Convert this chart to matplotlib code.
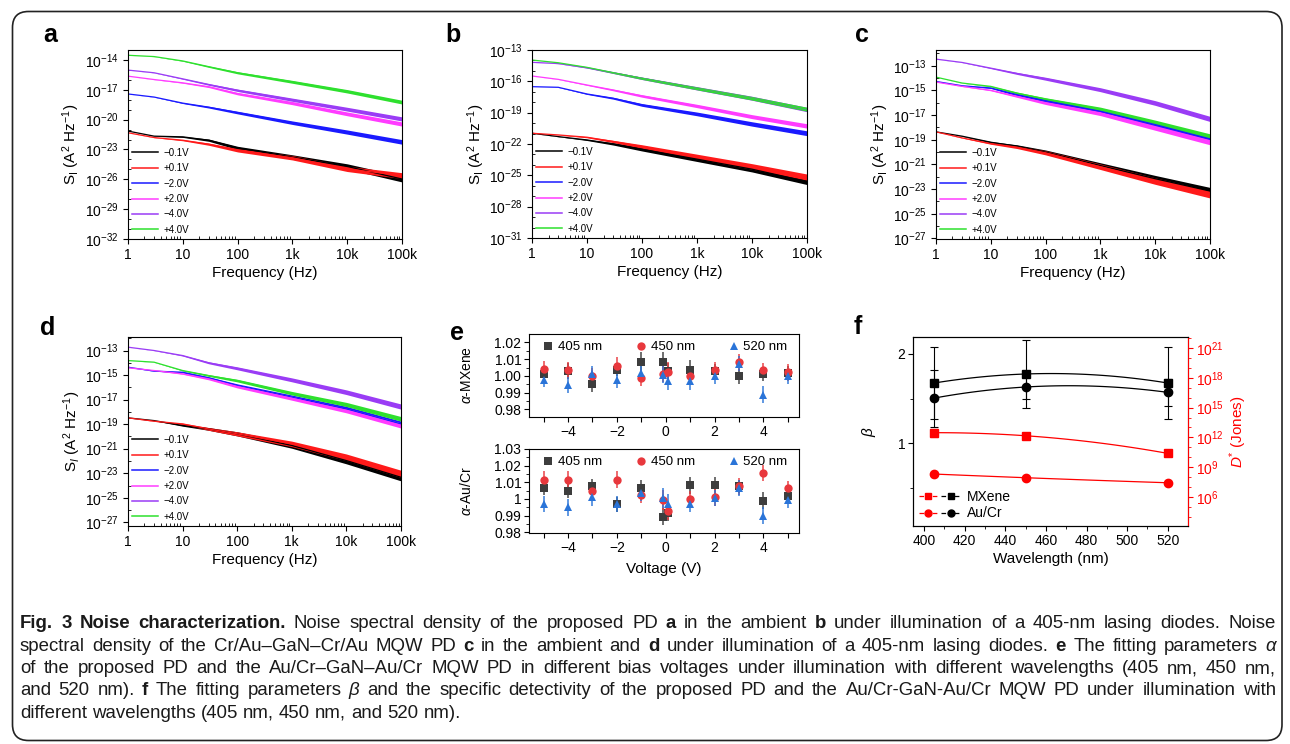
import matplotlib
matplotlib.use("Agg")
import matplotlib.pyplot as plt
import numpy as np
from matplotlib.lines import Line2D
from matplotlib.legend_handler import HandlerTuple
from matplotlib.patches import FancyBboxPatch
from matplotlib.ticker import FixedLocator, NullFormatter, LogFormatterSciNotation, LogLocator

plt.rcParams['font.family'] = ['Liberation Sans', 'DejaVu Sans']
plt.rcParams['mathtext.fontset'] = 'custom'
plt.rcParams['mathtext.rm'] = 'Liberation Sans'
plt.rcParams['mathtext.it'] = 'Liberation Sans:italic'
plt.rcParams['mathtext.bf'] = 'Liberation Sans:bold'
plt.rcParams['axes.linewidth'] = 0.8

# ---------------- data: noise spectra (log10 of S_I, A^2/Hz) ----------------
freq = [1, 3, 10, 30, 100, 1e3, 1e4, 1e5]
band = [0.0, 0.01, 0.04, 0.08, 0.12, 0.16, 0.19, 0.21]   # half width of noisy trace (decades)
voltages = ["\u22120.1V", "+0.1V", "\u22122.0V", "+2.0V", "\u22124.0V", "+4.0V"]
volt_colors = ['black', '#ff1a1a', '#1a1aff', '#ff3cff', '#9a3cf5', '#2ee02e']
band_scale = [1.4, 1.4, 1.1, 1.0, 1.0, 0.9]

a_m01 = [-21.15, -21.66, -21.73, -22.07, -22.85, -23.76, -24.71, -25.97]
a_p01 = [-21.32, -21.80, -22.07, -22.47, -23.08, -23.83, -24.95, -25.63]
a_m20 = [-17.42, -17.73, -18.34, -18.75, -19.29, -20.31, -21.25, -22.24]
a_p20 = [-15.63, -15.97, -16.30, -16.70, -17.39, -18.34, -19.42, -20.44]
a_m40 = [-15.02, -15.29, -15.90, -16.47, -17.05, -18.00, -18.95, -19.93]
a_p40 = [-13.53, -13.66, -14.10, -14.68, -15.29, -16.20, -17.15, -18.24]

b_m01 = [-20.97, -21.29, -21.61, -21.99, -22.50, -23.45, -24.41, -25.59]
b_p01 = [-20.97, -21.13, -21.35, -21.76, -22.24, -23.20, -24.15, -25.17]
b_m20 = [-16.51, -16.57, -17.21, -17.62, -18.26, -19.12, -20.08, -20.97]
b_p20 = [-15.49, -15.81, -16.35, -16.83, -17.40, -18.36, -19.38, -20.27]
b_m40 = [-14.18, -14.30, -14.70, -15.17, -15.71, -16.67, -17.62, -18.70]
b_p40 = [-13.96, -14.22, -14.66, -15.17, -15.71, -16.67, -17.62, -18.67]

c_m01 = [-18.36, -18.71, -19.20, -19.52, -20.00, -21.09, -22.16, -23.16]
c_p01 = [-18.36, -18.85, -19.31, -19.60, -20.06, -21.19, -22.35, -23.43]
c_m20 = [-14.27, -14.62, -14.80, -15.35, -15.83, -16.69, -17.77, -18.93]
c_p20 = [-14.32, -14.67, -14.99, -15.48, -16.02, -16.88, -18.04, -19.20]
c_m40 = [-12.46, -12.73, -13.19, -13.62, -14.05, -14.94, -16.02, -17.31]
c_p40 = [-13.92, -14.40, -14.67, -15.21, -15.70, -16.50, -17.58, -18.71]

d_m01 = [-18.49, -18.71, -19.11, -19.39, -19.79, -20.74, -21.97, -23.33]
d_p01 = [-18.49, -18.76, -18.98, -19.39, -19.79, -20.61, -21.70, -23.05]
d_m20 = [-14.36, -14.68, -14.77, -15.23, -15.85, -16.80, -17.76, -18.98]
d_p20 = [-14.41, -14.63, -14.90, -15.31, -15.93, -16.89, -17.89, -19.11]
d_m40 = [-12.73, -13.00, -13.41, -14.00, -14.45, -15.39, -16.40, -17.57]
d_p40 = [-13.82, -13.95, -14.63, -15.04, -15.45, -16.48, -17.40, -18.57]

freq_ticks = [1, 10, 100, 1e3, 1e4, 1e5]
freq_labels = ["1", "10", "100", "1k", "10k", "100k"]

# ---------------- data: alpha fitting parameters ----------------
volt_e = [-5, -4, -3, -2, -1, -0.1, 0.1, 1, 2, 3, 4, 5]
wl_labels = ["405 nm", "450 nm", "520 nm"]
mx_405 = [1.0012, 1.0030, 0.9949, 1.0038, 1.0082, 1.0082, 1.0030, 1.0038, 1.0032, 0.9998, 1.0012, 1.0018]
mx_450 = [1.0042, 1.0034, 0.9998, 1.0062, 0.9988, 1.0012, 1.0025, 1.0002, 1.0034, 1.0082, 1.0034, 1.0022]
mx_520 = [0.9978, 0.9948, 1.0012, 0.9974, 1.0018, 1.0008, 0.9972, 0.9968, 0.9998, 1.0072, 0.9889, 0.9998]
mx_405_err = [0.004, 0.005, 0.0045, 0.004, 0.006, 0.006, 0.005, 0.0055, 0.004, 0.0045, 0.004, 0.004]
mx_450_err = [0.0045, 0.005, 0.005, 0.005, 0.005, 0.005, 0.006, 0.005, 0.005, 0.005, 0.0045, 0.005]
mx_520_err = [0.0047, 0.0048, 0.005, 0.0047, 0.005, 0.005, 0.0055, 0.005, 0.0045, 0.0045, 0.005, 0.0045]

au_405 = [1.0065, 1.0049, 1.0075, 0.9969, 1.0065, 0.9894, 0.9915, 1.0081, 1.0081, 1.0075, 0.9989, 1.0015]
au_450 = [1.0115, 1.0115, 1.0045, 1.0115, 1.0025, 0.9995, 0.9925, 1.0000, 1.0009, 1.0075, 1.0155, 1.0065]
au_520 = [0.9969, 0.9949, 1.0009, 0.9969, 1.0035, 1.0005, 0.9969, 0.9969, 1.0005, 1.0065, 0.9900, 0.9995]
au_405_err = [0.004, 0.0045, 0.0045, 0.0045, 0.005, 0.005, 0.005, 0.005, 0.005, 0.004, 0.005, 0.004]
au_450_err = [0.005, 0.005, 0.005, 0.005, 0.005, 0.006, 0.005, 0.005, 0.005, 0.005, 0.005, 0.004]
au_520_err = [0.005, 0.005, 0.005, 0.005, 0.005, 0.006, 0.006, 0.005, 0.005, 0.005, 0.005, 0.005]

# ---------------- data: beta and detectivity ----------------
wl = [405, 450, 520]
beta_mx = [1.674, 1.775, 1.674]
beta_mx_err = [0.40, 0.38, 0.40]
beta_au = [1.505, 1.629, 1.569]
beta_au_err = [0.32, 0.14, 0.15]
logD_mx = [12.47, 12.16, 10.38]
logD_mx_err = [0.42, 0.15, 0.15]
logD_au = [8.29, 7.92, 7.41]
logD_au_err = [0.12, 0.12, 0.12]

# ---------------- caption ----------------
caption_lines = [
    [("Fig. 3 Noise characterization.", "b"), ("Noise spectral density of the proposed PD", "n"),
     ("a", "b"), ("in the ambient", "n"), ("b", "b"),
     ("under illumination of a 405-nm lasing diodes. Noise", "n")],
    [("spectral density of the Cr/Au\u2013GaN\u2013Cr/Au MQW PD", "n"), ("c", "b"),
     ("in the ambient and", "n"), ("d", "b"), ("under illumination of a 405-nm lasing diodes.", "n"),
     ("e", "b"), ("The fitting parameters", "n"), ("\u03b1", "i")],
    [("of the proposed PD and the Au/Cr\u2013GaN\u2013Au/Cr MQW PD in different bias voltages under "
      "illumination with different wavelengths (405 nm, 450 nm,", "n")],
    [("and 520 nm).", "n"), ("f", "b"), ("The fitting parameters", "n"), ("\u03b2", "i"),
     ("and the specific detectivity of the proposed PD and the Au/Cr-GaN-Au/Cr MQW PD under illumination with", "n")],
    [("different wavelengths (405 nm, 450 nm, and 520 nm).", "n")],
]
caption_justify = [True, True, True, True, False]

W, H = 1290, 744
fig = plt.figure(figsize=(W / 100, H / 100), dpi=100)


def rect(x0, y0, x1, y1):
    return [x0 / W, 1 - y1 / H, (x1 - x0) / W, (y1 - y0) / H]


def noise_panel(box, curves, ylo, yhi, major_exps, ylabel):
    ax = fig.add_axes(rect(*box))
    lines = []
    for logs, lab, col, sc in zip(curves, voltages, volt_colors, band_scale):
        s = 10.0 ** np.array(logs)
        hw = 10.0 ** (np.array(band) * sc)
        ax.fill_between(freq, s / hw, s * hw, color=col, lw=0)
        ln, = ax.plot(freq, s, color=col, lw=0.9, label=lab)
        lines.append(ln)
    ax.set_xscale('log')
    ax.set_yscale('log')
    ax.set_xlim(1, 1e5)
    ax.set_ylim(10.0 ** ylo, 10.0 ** yhi)
    ax.set_xticks(freq_ticks, freq_labels)
    ax.xaxis.set_minor_locator(LogLocator(base=10, subs=np.arange(2, 10)))
    ax.xaxis.set_minor_formatter(NullFormatter())
    ax.set_yticks([10.0 ** e for e in major_exps])
    ax.yaxis.set_major_formatter(LogFormatterSciNotation())
    ax.yaxis.set_minor_locator(FixedLocator([10.0 ** e for e in range(int(np.floor(ylo)), int(np.ceil(yhi)) + 1)]))
    ax.yaxis.set_minor_formatter(NullFormatter())
    ax.tick_params(which='major', direction='out', length=3.5, width=0.8, labelsize=10, pad=3)
    ax.tick_params(which='minor', direction='in', length=2.5, width=0.6)
    ax.set_xlabel("Frequency (Hz)", fontsize=11, labelpad=3)
    ax.set_ylabel(ylabel, fontsize=11, labelpad=2)
    leg = ax.legend(handles=lines, loc='lower left', frameon=False, fontsize=7, handlelength=2.6,
                    handletextpad=0.65, labelspacing=0.55, borderaxespad=0.25, borderpad=0.2)
    for h in leg.legend_handles:
        h.set_linewidth(1.1)
    return ax


ylab = r"$\mathregular{S_I\ (A^2\ Hz^{-1})}$"
ylab_d = r"$\mathregular{S}_{I}\mathregular{\ (A^2\ Hz^{-1})}$"
noise_panel((128, 50, 402, 239), [a_m01, a_p01, a_m20, a_p20, a_m40, a_p40], -32, -13,
            range(-32, -13, 3), ylab)
noise_panel((532, 50, 807, 238), [b_m01, b_p01, b_m20, b_p20, b_m40, b_p40], -31, -13,
            range(-31, -12, 3), ylab)
noise_panel((936, 50, 1210, 239), [c_m01, c_p01, c_m20, c_p20, c_m40, c_p40], -27.05, -11.72,
            range(-27, -12, 2), ylab)
noise_panel((128, 337, 401, 526), [d_m01, d_p01, d_m20, d_p20, d_m40, d_p40], -27.3, -11.9,
            range(-27, -12, 2), ylab_d)

# ---------------- panel e ----------------
e_colors = ['#3d3d3d', '#e8383d', '#2a74d8']
e_markers = ['s', 'o', '^']


def alpha_panel(box, series, errs, ylim, yticks, ylabels, ylabel):
    ax = fig.add_axes(rect(*box))
    for vals, er, col, mk in zip(series, errs, e_colors, e_markers):
        ecol = matplotlib.colors.to_rgba(col, 0.8)
        ax.errorbar(volt_e, vals, yerr=er, fmt=mk, color=col, ecolor=ecol, ms=6,
                    capsize=3.5, elinewidth=1.3, capthick=1.3, mew=0)
    hs = [Line2D([], [], marker=mk, ls='', color=col, ms=6, mew=0) for col, mk in zip(e_colors, e_markers)]
    ax.legend(hs, wl_labels, loc='upper center', ncol=3, frameon=False, fontsize=9.5,
              handletextpad=0.1, columnspacing=2.4, borderaxespad=0.15, handlelength=1.2)
    ax.set_xlim(-5.6, 5.46)
    ax.set_ylim(*ylim)
    ax.set_xticks([-4, -2, 0, 2, 4])
    ax.set_xticks(range(-5, 6), minor=True)
    ax.set_yticks(yticks, ylabels)
    ax.set_yticks(np.arange(yticks[0] + 0.005, yticks[-1] + 0.004, 0.01), minor=True)
    ax.tick_params(which='major', direction='out', length=3.5, width=0.8, labelsize=10, pad=2)
    ax.tick_params(which='minor', axis='x', direction='out', length=3.5, width=0.8)
    ax.tick_params(which='minor', axis='y', direction='out', length=2, width=0.6)
    ax.set_ylabel(ylabel, fontsize=10)
    ax.yaxis.set_label_coords(-0.205, 0.5)
    return ax


alpha_panel((529, 334, 799, 417), [mx_405, mx_450, mx_520], [mx_405_err, mx_450_err, mx_520_err],
            (0.9755, 1.025), [0.98, 0.99, 1.00, 1.01, 1.02], ["0.98", "0.99", "1.00", "1.01", "1.02"],
            r"$\alpha$-MXene")
ax_e2 = alpha_panel((529, 449, 799, 533), [au_405, au_450, au_520], [au_405_err, au_450_err, au_520_err],
                    (0.9795, 1.03), [0.98, 0.99, 1.00, 1.01, 1.02, 1.03],
                    ["0.98", "0.99", "1", "1.01", "1.02", "1.03"], r"$\alpha$-Au/Cr")
ax_e2.set_xlabel("Voltage (V)", fontsize=11, labelpad=5)

# ---------------- panel f ----------------
ax_f = fig.add_axes(rect(913, 337, 1188, 526))
ax_d = ax_f.twinx()
xs = np.linspace(wl[0], wl[-1], 120)
ax_f.plot(xs, np.polyval(np.polyfit(wl, beta_mx, 2), xs), color='black', lw=0.9)
ax_f.plot(xs, np.polyval(np.polyfit(wl, beta_au, 2), xs), color='black', lw=0.9)
ax_f.errorbar(wl, beta_mx, yerr=beta_mx_err, fmt='s', color='black', ms=6, capsize=3,
              elinewidth=0.8, capthick=0.8)
ax_f.errorbar(wl, beta_au, yerr=beta_au_err, fmt='o', color='black', ms=6, capsize=3,
              elinewidth=0.8, capthick=0.8)
ax_f.set_xlim(394.5, 530)
ax_f.set_ylim(0.07, 2.19)
ax_f.set_xticks(range(400, 521, 20))
ax_f.set_xticks(range(410, 530, 10), minor=True)
ax_f.set_yticks([1, 2])
ax_f.set_yticks([0.5, 1.5], minor=True)
ax_f.tick_params(which='major', direction='out', length=3.5, width=0.8, labelsize=10, pad=2)
ax_f.tick_params(which='minor', direction='out', length=2.5, width=0.6)
ax_f.set_xlabel("Wavelength (nm)", fontsize=11, labelpad=3)
ax_f.set_ylabel(r"$\beta$", fontsize=11, labelpad=14)

for logs, lerr, mk in [(logD_mx, logD_mx_err, 's'), (logD_au, logD_au_err, 'o')]:
    logs = np.array(logs)
    lerr = np.array(lerr)
    ax_d.plot(xs, 10.0 ** np.polyval(np.polyfit(wl, logs, 2), xs), color='red', lw=0.9)
    yv = 10.0 ** logs
    ax_d.errorbar(wl, yv, yerr=[yv - 10.0 ** (logs - lerr), 10.0 ** (logs + lerr) - yv], fmt=mk,
                  color='red', ms=6, capsize=3, elinewidth=0.8, capthick=0.8)
ax_d.set_yscale('log')
ax_d.set_ylim(10.0 ** 3.04, 10.0 ** 22.14)
ax_d.set_yticks([10.0 ** e for e in range(6, 22, 3)])
ax_d.yaxis.set_major_formatter(LogFormatterSciNotation())
ax_d.yaxis.set_minor_locator(FixedLocator([10.0 ** e for e in range(3, 23)]))
ax_d.yaxis.set_minor_formatter(NullFormatter())
ax_d.tick_params(which='major', direction='out', length=3.5, width=0.8, labelsize=10, pad=2,
                 colors='red')
ax_d.tick_params(which='minor', direction='out', length=2.5, width=0.6, colors='red')
ax_d.spines['right'].set_color('red')
ax_d.set_ylabel(r"$D^{*}$ (Jones)", fontsize=11, color='red', labelpad=3)

h_mx = (Line2D([], [], color='red', ls='--', marker='s', ms=5, lw=0.9),
        Line2D([], [], color='black', ls='--', marker='s', ms=5, lw=0.9))
h_au = (Line2D([], [], color='red', ls='--', marker='o', ms=5, lw=0.9),
        Line2D([], [], color='black', ls='--', marker='o', ms=5, lw=0.9))
ax_d.legend([h_mx, h_au], ["MXene", "Au/Cr"], handler_map={tuple: HandlerTuple(ndivide=None, pad=0.3)},
            loc='lower left', frameon=False, fontsize=10, handlelength=3.0, handletextpad=0.5,
            labelspacing=0.2, borderaxespad=0.2, borderpad=0.2)

# ---------------- panel letters ----------------
for letter, (px, py) in zip("abcdef", [(50, 35), (453, 35), (862, 35), (48, 328), (457, 333), (858, 327)]):
    fig.text(px / W, 1 - py / H, letter, fontsize=18, fontweight='bold', ha='center', va='center')

# ---------------- frame ----------------
frame = FancyBboxPatch((0.125, 0.035), 12.695, 7.29, boxstyle="round,pad=0,rounding_size=0.16",
                       transform=fig.dpi_scale_trans, fill=False, ec='#222222', lw=1.2)
fig.add_artist(frame)

# ---------------- caption (justified word by word) ----------------
cap_left, cap_right = 20, 1276
cap_base = [628, 651, 673, 695, 718]
fig.canvas.draw()
renderer = fig.canvas.get_renderer()


def make_words(size):
    rows = []
    for segs in caption_lines:
        row = []
        for seg, st in segs:
            for wtxt in seg.split(' '):
                t = fig.text(0, 0, wtxt, fontsize=size, color='#1a1a1a',
                             fontweight='bold' if st == 'b' else 'normal',
                             fontstyle='italic' if st == 'i' else 'normal', va='baseline')
                row.append((t, t.get_window_extent(renderer).width))
        rows.append(row)
    return rows


def natural_width(rows, size):
    sp = 0.27 * size * 100 / 72
    return max(sum(w for _, w in r) + sp * (len(r) - 1)
               for r, j in zip(rows, caption_justify) if j)


# fit the font so the justified lines need only ordinary word spacing
base_size = 11.0
rows = make_words(base_size)
cap_size = min(13.4, base_size * (cap_right - cap_left) / natural_width(rows, base_size))
for r in rows:
    for t, _ in r:
        t.remove()
rows = make_words(cap_size)
space = 0.27 * cap_size * 100 / 72

for r, yb, just in zip(rows, cap_base, caption_justify):
    total = sum(w for _, w in r)
    gap = (cap_right - cap_left - total) / (len(r) - 1) if just and len(r) > 1 else space
    x = cap_left
    for t, w in r:
        t.set_position((x / W, 1 - yb / H))
        x += w + gap

fig.savefig("out.png", dpi=100)
